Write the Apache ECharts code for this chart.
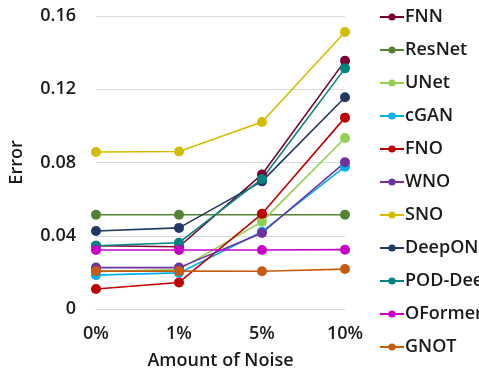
<!DOCTYPE html>
<html>
<head>
<meta charset="utf-8">
<script src="https://cdn.jsdelivr.net/npm/echarts@6/dist/echarts.min.js"></script>
<style>
  html, body { margin: 0; padding: 0; background: #fff; }
  #noiseChart { width: 479px; height: 387px; }
</style>
</head>
<body>
<div id="noiseChart"></div>
<script>
// noise levels on x axis
var noiseLevels = ['0%', '1%', '5%', '10%']
var yTicks = [0, 0.04, 0.08, 0.12, 0.16]

var modelNames = ['FNN', 'ResNet', 'UNet', 'cGAN', 'FNO', 'WNO', 'SNO', 'DeepONet', 'POD-DeepONet', 'OFormer', 'GNOT']
var modelColors = ['#7b0031', '#548235', '#92d050', '#00b0f0', '#c00000', '#7030a0', '#d4bc00', '#203864', '#00847f', '#c800c8', '#c55a11']

var fnnErr = [0.0345, 0.0340, 0.0735, 0.1355]
var resnetErr = [0.0515, 0.0515, 0.0515, 0.0515]
var unetErr = [0.0205, 0.0215, 0.0477, 0.0934]
var cganErr = [0.0185, 0.0197, 0.0422, 0.0777]
var fnoErr = [0.0109, 0.0145, 0.0520, 0.1045]
var wnoErr = [0.0226, 0.0226, 0.0415, 0.0801]
var snoErr = [0.0857, 0.0860, 0.1021, 0.1513]
var deeponetErr = [0.0426, 0.0443, 0.0697, 0.1156]
var podDeeponetErr = [0.0345, 0.0362, 0.0710, 0.1314]
var oformerErr = [0.0322, 0.0322, 0.0322, 0.0324]
var gnotErr = [0.0207, 0.0207, 0.0206, 0.0218]

var allErr = [fnnErr, resnetErr, unetErr, cganErr, fnoErr, wnoErr, snoErr, deeponetErr, podDeeponetErr, oformerErr, gnotErr]

var font = '"Open Sans", sans-serif'

var seriesList = modelNames.map(function (name, i) {
  return {
    name: name,
    type: 'line',
    data: allErr[i],
    symbol: 'circle',
    symbolSize: 10,
    color: modelColors[i],
    lineStyle: { width: 1.6 },
    emphasis: { disabled: true }
  }
})

var option = {
  animation: false,
  grid: {
    left: 86,
    right: 134,
    top: 16,
    bottom: 78
  },
  legend: {
    orient: 'vertical',
    left: 374,
    top: 3,
    itemWidth: 24,
    itemHeight: 9,
    itemGap: 15,
    data: modelNames,
    textStyle: {
      fontFamily: font,
      fontSize: 18,
      fontWeight: 600,
      color: '#1a1a1a',
      lineHeight: 18,
      padding: [0, 0, 0, -4]
    }
  },
  xAxis: {
    type: 'category',
    boundaryGap: false,
    data: noiseLevels,
    name: 'Amount of Noise',
    nameLocation: 'middle',
    nameGap: 43,
    nameTextStyle: { fontFamily: font, fontSize: 18, fontWeight: 600, color: '#1a1a1a' },
    axisLine: { lineStyle: { color: '#d9d9d9' } },
    axisTick: { show: false },
    axisLabel: { fontFamily: font, fontSize: 18, fontWeight: 600, color: '#1a1a1a', margin: 16 }
  },
  yAxis: {
    type: 'value',
    min: yTicks[0],
    max: yTicks[yTicks.length - 1],
    interval: 0.04,
    name: 'Error',
    nameLocation: 'middle',
    nameGap: 70,
    nameTextStyle: { fontFamily: font, fontSize: 18, fontWeight: 600, color: '#1a1a1a' },
    axisLine: { show: false },
    axisTick: { show: false },
    axisLabel: {
      fontFamily: font,
      fontSize: 18,
      fontWeight: 600,
      color: '#1a1a1a',
      margin: 20,
      formatter: function (v) { return v === 0 ? '0' : v.toFixed(2) }
    },
    splitLine: { lineStyle: { color: '#d9d9d9' } }
  },
  series: seriesList
}

var chart = echarts.init(document.getElementById('noiseChart'))
chart.setOption(option)
</script>
</body>
</html>
